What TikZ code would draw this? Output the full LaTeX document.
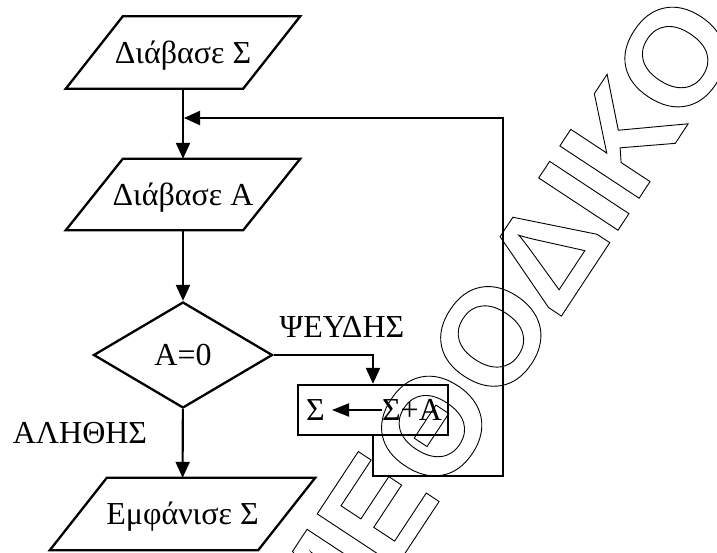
\documentclass[tikz,border=0pt]{standalone}
\usepackage{fontspec}
\setmainfont{Liberation Serif}
\newfontfamily\wmfont{Liberation Sans}[BoldFont={Liberation Sans Bold}]
\usetikzlibrary{arrows.meta,shapes.geometric}
\begin{document}
\begin{tikzpicture}[x=1pt,y=-1pt,
  txt/.style={font=\fontsize{32}{38}\selectfont, inner sep=0pt, text height=21.2pt, text depth=0pt},
  iobox/.style={txt, minimum height=72pt},
  shapeline/.style={line width=2.3pt, line join=miter},
  conn/.style={line width=2.1pt, line join=miter, -{Triangle[length=16pt,width=14pt]}},
  wmark/.style={font=\wmfont\bfseries\fontsize{138}{138}\selectfont, inner sep=0pt, text height=98.8pt, text depth=0pt, rotate=56.6}
]
\useasboundingbox (0,0) rectangle (717,552);

% watermark (outlined letters)
\node[wmark] (wm) at (495,327) {\special{pdf:literal direct 1 Tr 0.9 w}ΜΕΘΟΔΙΚΟ\special{pdf:literal direct 0 Tr}};

% flowchart nodes
\node[iobox, minimum width=177pt] (p1) at (183,52.5) {Διάβασε Σ};
\draw[shapeline] ([xshift=28.5pt]p1.north west) -- ([xshift=28.5pt]p1.north east) -- ([xshift=-28.5pt]p1.south east) -- ([xshift=-28.5pt]p1.south west) -- cycle;

\node[iobox, minimum width=177pt, minimum height=71pt] (p2) at (183,194.5) {Διάβασε Α};
\draw[shapeline] ([xshift=28.5pt]p2.north west) -- ([xshift=28.5pt]p2.north east) -- ([xshift=-28.5pt]p2.south east) -- ([xshift=-28.5pt]p2.south west) -- cycle;

\node[txt, shape=diamond, draw, shapeline, minimum width=179pt, minimum height=106pt] (dec) at (183,355) {A=0};

\node[iobox, minimum width=208pt] (p3) at (182.5,514) {Εμφάνισε Σ};
\draw[shapeline] ([xshift=28.5pt]p3.north west) -- ([xshift=28.5pt]p3.north east) -- ([xshift=-28.5pt]p3.south east) -- ([xshift=-28.5pt]p3.south west) -- cycle;

\node[txt, draw, shapeline, minimum width=150pt, minimum height=50pt] (upd) at (373,410) {};
\node[txt] (s1) at (315.5,410) {Σ};
\node[txt] (s2) at (412,410) {Σ+Α};

\node[txt] (lf) at (342,327) {ΨΕΥΔΗΣ};
\node[txt] (lt) at (80,433) {ΑΛΗΘΗΣ};

\coordinate (c1) at (503,476);
\coordinate (c2) at (503,118);
\coordinate (j) at (184,118);

% connectors
\draw[conn] (p1) -- (p2);
\draw[conn] (p2) -- (dec);
\draw[conn] (dec) -- (p3);
\draw[conn] (dec.east) -| (upd.north);
\draw[conn] (upd.south) |- (c1) -- (c2) -- (j);
\draw[line width=2.1pt, -{Triangle[length=17pt,width=13pt]}, shorten >=7pt] (s2) -- (s1);
\end{tikzpicture}
\end{document}
